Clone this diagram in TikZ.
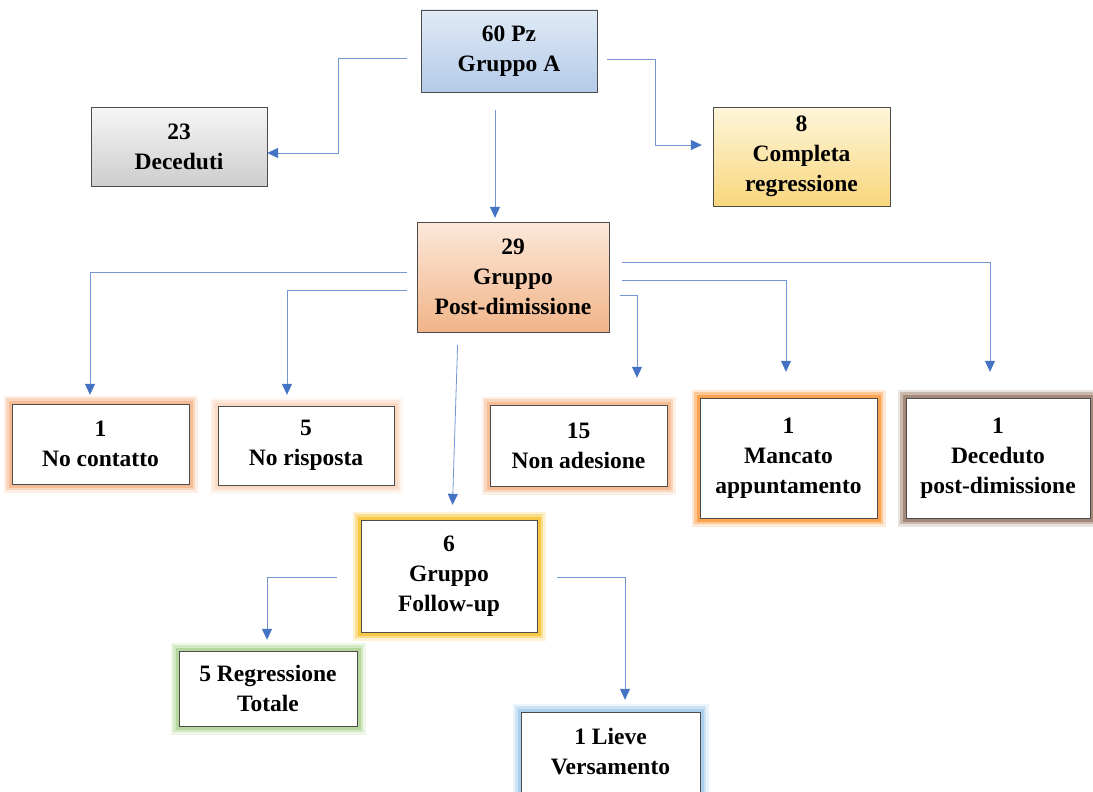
\documentclass[tikz,border=0pt]{standalone}
\usepackage{fontspec}
\setmainfont{Liberation Serif}
\usetikzlibrary{arrows.meta}
\definecolor{linkblue}{RGB}{68,114,196}
\definecolor{glowpeach}{RGB}{244,177,131}
\definecolor{glowbrown}{RGB}{150,118,98}
\definecolor{glowgold}{RGB}{246,190,40}
\definecolor{glowgreen}{RGB}{169,209,142}
\definecolor{glowsky}{RGB}{157,200,235}
\definecolor{bluetop}{RGB}{224,234,246}
\definecolor{bluebot}{RGB}{180,203,232}
\definecolor{graytop}{RGB}{246,246,246}
\definecolor{graybot}{RGB}{205,205,205}
\definecolor{goldtop}{RGB}{254,246,218}
\definecolor{goldbot}{RGB}{248,214,124}
\definecolor{peachtop}{RGB}{252,232,218}
\definecolor{peachbot}{RGB}{241,180,136}
\tikzset{
    box/.style={
           rectangle,
           draw=black!70, thin,
           align=center,
           font=\bfseries\fontsize{23.5}{30}\selectfont,
           inner sep=2pt,
           },
}
\tikzset{
    glow/.style={
           box, fill=white,
           preaction={draw=#1, line width=17pt, opacity=0.2},
           preaction={draw=#1, line width=12pt, opacity=0.4},
           preaction={draw=#1, line width=7pt, opacity=0.7},
           },
}
\tikzset{
    link/.style={
           draw=linkblue!75, line width=0.8pt,
           -{Triangle[length=11pt,width=10pt,color=linkblue]},
           },
}
\begin{document}
\begin{tikzpicture}[x=1pt,y=-1pt]
\useasboundingbox (0,0) rectangle (1093,792);
% top of the tree
\node[box,top color=bluetop,bottom color=bluebot,minimum width=176pt,minimum height=82pt](A) at (509,51){60 Pz\\Gruppo A};
\node[box,top color=graytop,bottom color=graybot,minimum width=176pt,minimum height=79pt](dec) at (179,146.5){23\\Deceduti};
\node[box,top color=goldtop,bottom color=goldbot,minimum width=177pt,minimum height=99pt](comp) at (801.5,156.5){8\\Completa\\regressione};
\node[box,top color=peachtop,bottom color=peachbot,minimum width=192pt,minimum height=110pt](post) at (513,277){29\\Gruppo\\Post-dimissione};
% post-dimissione outcomes
\node[glow=glowpeach,minimum width=177pt,minimum height=80pt](nocont) at (100.5,444){1\\No contatto};
\node[glow=glowpeach!55,minimum width=176pt,minimum height=79pt](norisp) at (306,445.5){5\\No risposta};
\node[glow=glowpeach,minimum width=177pt,minimum height=81pt](nonad) at (578.5,445.5){15\\Non adesione};
\node[glow=orange!60!glowpeach,minimum width=177pt,minimum height=120pt](manc) at (788.5,458){1\\Mancato\\appuntamento};
\node[glow=glowbrown,minimum width=184pt,minimum height=120pt](decpost) at (998,458){1\\Deceduto\\post-dimissione};
% follow-up
\node[glow=glowgold,minimum width=176pt,minimum height=112pt](follow) at (449,576){6\\Gruppo\\Follow-up};
\node[glow=glowgreen,minimum width=178pt,minimum height=75pt](regr) at (268,688.5){5 Regressione\\Totale};
\node[glow=glowsky,minimum width=179pt,minimum height=80pt](lieve) at (610.5,752){1 Lieve\\Versamento};

\draw[link,shorten <=14pt] ([yshift=-7pt]A.west) -- ++(-82,0) |- ([yshift=-6.5pt]dec.east);
\draw[link,shorten <=10pt,shorten >=11pt] ([yshift=-8pt]A.east) -- ++(58,0) |- ([yshift=11.5pt]comp.west);
\draw[link,shorten <=18pt,shorten >=4pt] ([xshift=-14pt]A.south) -- ([xshift=-18pt]post.north);

\draw[link,shorten <=10pt,shorten >=9pt] ([yshift=5pt]post.west) -| ([xshift=-10.5pt]nocont.north);
\draw[link,shorten <=10pt,shorten >=11pt] ([yshift=-13pt]post.west) -| ([xshift=-19pt]norisp.north);
\draw[link,shorten <=13pt,shorten >=26pt] ([yshift=15pt]post.east) -| ([xshift=-8pt]decpost.north);
\draw[link,shorten <=13pt,shorten >=26pt] ([yshift=-3pt]post.east) -| ([xshift=-2.5pt]manc.north);
\draw[link,shorten <=11pt,shorten >=27pt] ([yshift=-18pt]post.east) -| ([xshift=58.5pt]nonad.north);
\draw[link,shorten <=13pt,shorten >=15pt] ([xshift=-55pt]post.south) -- ([xshift=3pt]follow.north);

\draw[link,shorten <=24pt,shorten >=11pt] ([yshift=-1pt]follow.west) -| ([xshift=-1pt]regr.north);
\draw[link,shorten <=20pt,shorten >=12pt] ([yshift=-1pt]follow.east) -| ([xshift=14.5pt]lieve.north);
\end{tikzpicture}
\end{document}
